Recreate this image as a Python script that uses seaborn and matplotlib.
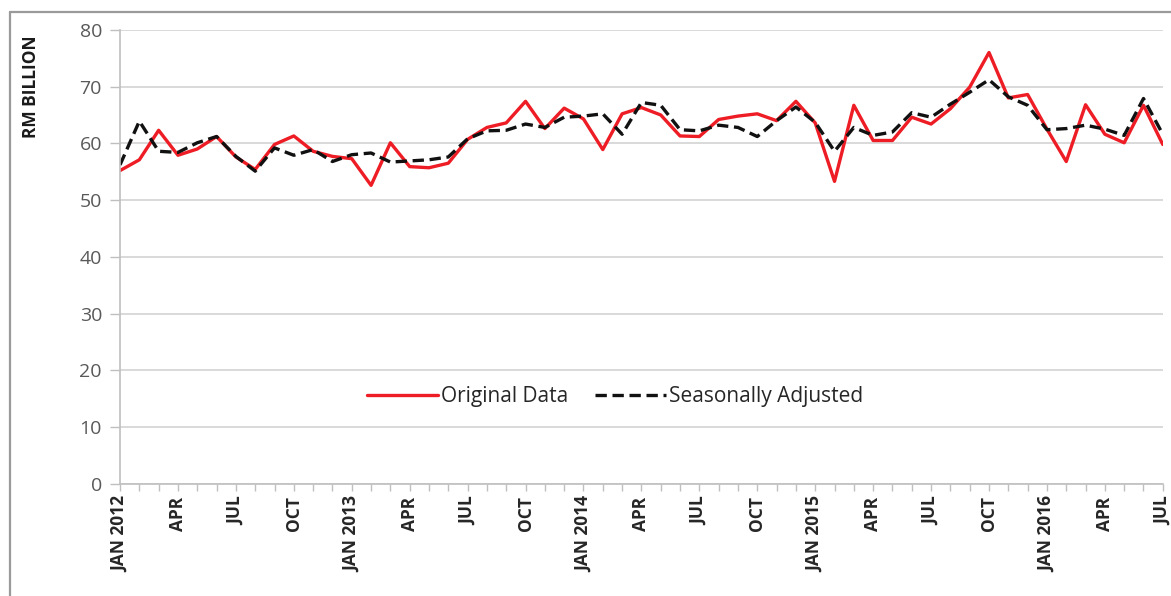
import pandas as pd
import matplotlib.pyplot as plt
import seaborn as sns
from matplotlib.lines import Line2D

sns.set_theme(style='white')
plt.rcParams['font.family'] = ['Open Sans', 'DejaVu Sans']

# monthly values, Jan 2012 - Jul 2016 (RM billion)
original = [55.2, 57.1, 62.3, 57.9, 59.0, 61.2, 57.6, 55.4, 59.8, 61.3, 58.6, 57.7,
            57.3, 52.6, 60.1, 55.9, 55.7, 56.5, 60.7, 62.8, 63.6, 67.4, 62.6, 66.2,
            64.3, 58.9, 65.2, 66.3, 65.0, 61.3, 61.2, 64.2, 64.8, 65.2, 64.0, 67.4,
            63.6, 53.3, 66.7, 60.5, 60.5, 64.6, 63.4, 66.1, 69.9, 76.0, 68.0, 68.6,
            62.5, 56.8, 66.8, 61.6, 60.1, 66.7, 59.8]
seasonal = [56.2, 63.9, 58.6, 58.4, 60.1, 61.2, 57.7, 55.1, 59.2, 57.9, 58.9, 56.8,
            58.0, 58.3, 56.7, 56.9, 57.1, 57.6, 60.8, 62.2, 62.3, 63.4, 62.8, 64.6,
            64.8, 65.2, 61.6, 67.2, 66.7, 62.4, 62.2, 63.2, 62.8, 61.2, 64.0, 66.4,
            63.7, 58.6, 62.8, 61.4, 62.0, 65.4, 64.6, 66.9, 69.0, 71.2, 68.2, 66.7,
            62.4, 62.6, 63.2, 62.5, 61.4, 67.9, 61.6]
tick_labels = ['JAN 2012', 'APR', 'JUL', 'OCT', 'JAN 2013', 'APR', 'JUL', 'OCT',
               'JAN 2014', 'APR', 'JUL', 'OCT', 'JAN 2015', 'APR', 'JUL', 'OCT',
               'JAN 2016', 'APR', 'JUL']
series_names = ['Original Data', 'Seasonally Adjusted']

month = list(range(len(original)))
df = pd.DataFrame({
    'month': month * 2,
    'value': original + seasonal,
    'series': [series_names[0]] * len(original) + [series_names[1]] * len(seasonal),
})

fig = plt.figure(figsize=(11.71, 5.96), dpi=100)
ax = fig.add_axes([0.1025, 0.188, 0.8905, 0.762])

sns.lineplot(data=df, x='month', y='value', hue='series', style='series',
             palette={series_names[0]: '#ee1c24', series_names[1]: '#111111'},
             dashes={series_names[0]: '', series_names[1]: (3.4, 1.7)},
             linewidth=2.4, ax=ax)

ax.set_xlim(0, len(original) - 1)
ax.set_ylim(0, 80)
ax.set_yticks(range(0, 81, 10))
ax.yaxis.grid(True, color='#d9d9d9', linewidth=1.4)
ax.xaxis.grid(False)

ax.set_xticks(month)
labels = [''] * len(month)
for k, lab in enumerate(tick_labels):
    labels[k * 3] = lab
ax.set_xticklabels(labels, rotation=90, fontsize=12.5, fontweight='bold', color='#262626')
ax.tick_params(axis='y', labelsize=14, labelcolor='#595959', length=7, width=1,
               color='#bfbfbf', left=True, pad=6)
ax.tick_params(axis='x', length=5, width=1, color='#bfbfbf', bottom=True, pad=4)

for side in ['top', 'right']:
    ax.spines[side].set_visible(False)
for side in ['left', 'bottom']:
    ax.spines[side].set_color('#bfbfbf')
    ax.spines[side].set_linewidth(1.2)

ax.set_xlabel('')
ax.set_ylabel('RM BILLION', fontsize=12.5, fontweight='bold', color='#1a1a1a')
ax.yaxis.set_label_coords(-0.077, 0.875)

handles, labs = ax.get_legend_handles_labels()
ax.legend(handles, labs, loc='center', bbox_to_anchor=(0.475, 0.192), ncol=2,
          frameon=False, fontsize=15, handlelength=3.4, handletextpad=0.15,
          columnspacing=1.3, labelcolor='#262626')

# screenshot frame
fig.add_artist(Line2D([10 / 1171, 10 / 1171], [0, 1 - 12 / 596], transform=fig.transFigure,
                      color='#9a9a9a', linewidth=1.6))
fig.add_artist(Line2D([10 / 1171, 1], [1 - 12 / 596, 1 - 12 / 596], transform=fig.transFigure,
                      color='#9a9a9a', linewidth=1.6))

plt.savefig('out.png', dpi=100)
plt.close()
